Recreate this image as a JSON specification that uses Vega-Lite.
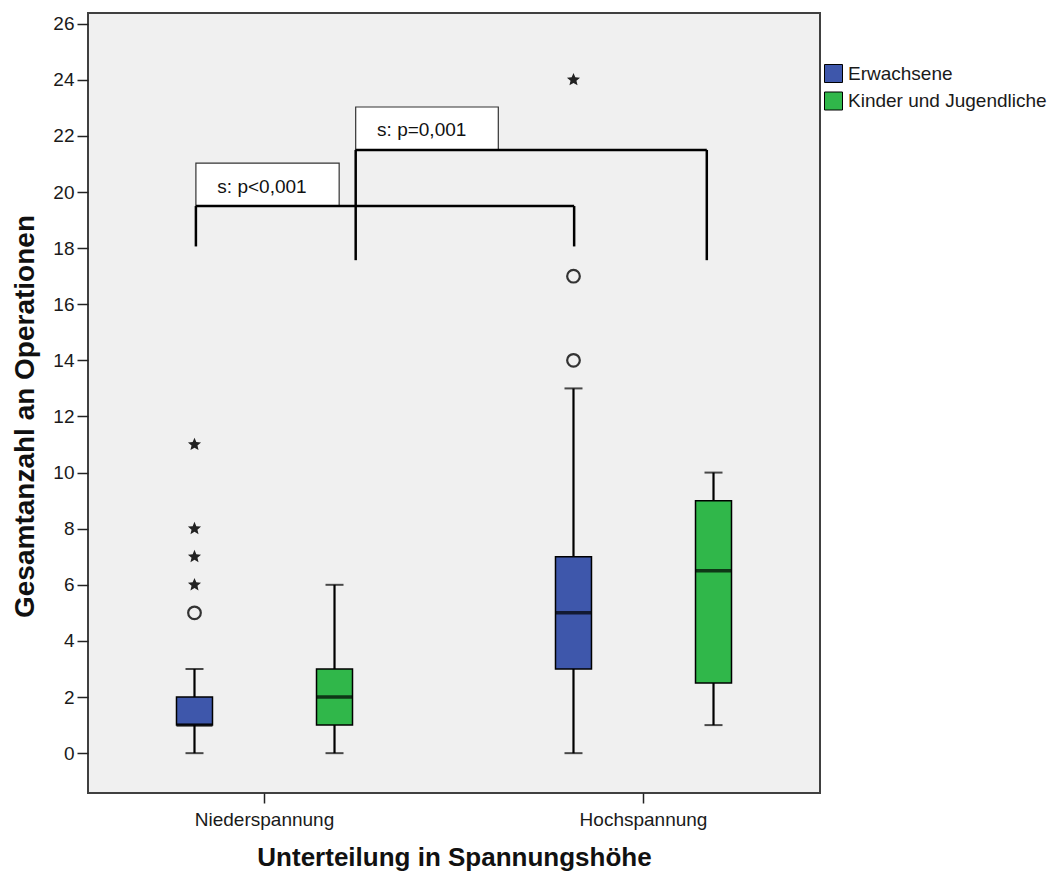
{
  "$schema": "https://vega.github.io/schema/vega-lite/v6.json",
  "autosize": {"type": "none"},
  "padding": {"left": 88, "top": 13, "right": 229, "bottom": 81},
  "width": 732,
  "height": 780,
  "background": "white",
  "config": {
    "font": "Liberation Sans",
    "view": {"fill": "#F0F0F0", "stroke": "#404040", "strokeWidth": 2},
    "axis": {"grid": false, "domain": false, "labelFont": "Liberation Sans", "titleFont": "Liberation Sans", "labelColor": "#1a1a1a", "titleColor": "#111111", "tickColor": "#222222"},
    "legend": {"labelFont": "Liberation Sans"}
  },
  "datasets": {
    "boxes": [
      {"span": "Niederspannung", "group": "Erwachsene", "min": 0, "q1": 1, "median": 1, "q3": 2, "max": 3},
      {"span": "Niederspannung", "group": "Kinder und Jugendliche", "min": 0, "q1": 1, "median": 2, "q3": 3, "max": 6},
      {"span": "Hochspannung", "group": "Erwachsene", "min": 0, "q1": 3, "median": 5, "q3": 7, "max": 13},
      {"span": "Hochspannung", "group": "Kinder und Jugendliche", "min": 1, "q1": 2.5, "median": 6.5, "q3": 9, "max": 10}
    ],
    "outliers": [
      {"span": "Niederspannung", "group": "Erwachsene", "value": 5, "kind": "mild"},
      {"span": "Niederspannung", "group": "Erwachsene", "value": 6, "kind": "extreme"},
      {"span": "Niederspannung", "group": "Erwachsene", "value": 7, "kind": "extreme"},
      {"span": "Niederspannung", "group": "Erwachsene", "value": 8, "kind": "extreme"},
      {"span": "Niederspannung", "group": "Erwachsene", "value": 11, "kind": "extreme"},
      {"span": "Hochspannung", "group": "Erwachsene", "value": 14, "kind": "mild"},
      {"span": "Hochspannung", "group": "Erwachsene", "value": 17, "kind": "mild"},
      {"span": "Hochspannung", "group": "Erwachsene", "value": 24, "kind": "extreme"}
    ],
    "segments": [
      {"x": 0.819, "x2": 0.819, "y": 18.06, "y2": 19.5},
      {"x": 0.819, "x2": 1.817, "y": 19.5, "y2": 19.5},
      {"x": 1.817, "x2": 1.817, "y": 19.5, "y2": 18.06},
      {"x": 1.2406, "x2": 1.2406, "y": 17.57, "y2": 21.5},
      {"x": 1.2406, "x2": 2.167, "y": 21.5, "y2": 21.5},
      {"x": 2.167, "x2": 2.167, "y": 21.5, "y2": 17.57}
    ],
    "labels": [
      {"label": "s: p<0,001", "x1": 0.819, "x2": 1.197, "y1": 19.5, "y2": 21.03, "tx": 0.9934, "ty": 20.17},
      {"label": "s: p=0,001", "x1": 1.2406, "x2": 1.6169, "y1": 21.5, "y2": 23.03, "tx": 1.4148, "ty": 22.2}
    ]
  },
  "layer": [
    {
      "layer": [
        {
          "data": {"name": "boxes"},
          "mark": {"type": "rule", "color": "black", "strokeWidth": 2.2},
          "encoding": {
            "x": {"field": "span", "type": "nominal",
                  "scale": {"domain": ["Niederspannung", "Hochspannung"], "paddingInner": 0.0686, "paddingOuter": 0},
                  "axis": {"title": "Unterteilung in Spannungshöhe", "labelAngle": 0, "labelFontSize": 19, "labelPadding": 7, "tickSize": 10, "tickWidth": 1.5, "titleFontSize": 26, "titleFontWeight": "bold", "titlePadding": 15}},
            "xOffset": {"field": "group", "type": "nominal",
                  "scale": {"domain": ["Erwachsene", "Kinder und Jugendliche"], "paddingInner": 0.7429, "paddingOuter": 0.632}},
            "y": {"field": "min", "type": "quantitative",
                  "scale": {"domain": [-1.42, 26.38], "nice": false, "zero": false},
                  "axis": {"title": "Gesamtanzahl an Operationen", "values": [0, 2, 4, 6, 8, 10, 12, 14, 16, 18, 20, 22, 24, 26], "labelFontSize": 19, "labelPadding": 3, "tickSize": 11, "tickWidth": 1.5, "titleFontSize": 28, "titleFontWeight": "bold", "titlePadding": 13, "titleY": 403}},
            "y2": {"field": "max"}
          }
        },
        {
          "data": {"name": "boxes"},
          "mark": {"type": "tick", "color": "black", "size": 18, "thickness": 2},
          "encoding": {
            "x": {"field": "span", "type": "nominal"},
            "xOffset": {"field": "group", "type": "nominal"},
            "y": {"field": "min", "type": "quantitative"}
          }
        },
        {
          "data": {"name": "boxes"},
          "mark": {"type": "tick", "color": "black", "size": 18, "thickness": 2},
          "encoding": {
            "x": {"field": "span", "type": "nominal"},
            "xOffset": {"field": "group", "type": "nominal"},
            "y": {"field": "max", "type": "quantitative"}
          }
        },
        {
          "data": {"name": "boxes"},
          "mark": {"type": "bar", "stroke": "black", "strokeWidth": 1.5},
          "encoding": {
            "x": {"field": "span", "type": "nominal"},
            "xOffset": {"field": "group", "type": "nominal"},
            "y": {"field": "q1", "type": "quantitative"},
            "y2": {"field": "q3"},
            "color": {"field": "group", "type": "nominal",
                      "scale": {"domain": ["Erwachsene", "Kinder und Jugendliche"], "range": ["#3E57AB", "#30B74A"]},
                      "legend": {"title": null, "orient": "none", "legendX": 736, "legendY": 51, "symbolType": "square", "symbolSize": 324, "symbolStrokeColor": "black", "symbolStrokeWidth": 1, "symbolOpacity": 1, "labelFontSize": 19, "labelColor": "#1a1a1a", "labelOffset": 5, "labelLimit": 0, "rowPadding": 4.5}}
          }
        },
        {
          "data": {"name": "boxes"},
          "mark": {"type": "tick", "color": "black", "size": 36, "thickness": 3.5},
          "encoding": {
            "x": {"field": "span", "type": "nominal"},
            "xOffset": {"field": "group", "type": "nominal"},
            "y": {"field": "median", "type": "quantitative"}
          }
        },
        {
          "data": {"name": "outliers"},
          "transform": [{"filter": "datum.kind === 'mild'"}],
          "mark": {"type": "point", "shape": "circle", "filled": false, "size": 160, "strokeWidth": 2.2, "color": "#333333", "opacity": 1},
          "encoding": {
            "x": {"field": "span", "type": "nominal"},
            "xOffset": {"field": "group", "type": "nominal"},
            "y": {"field": "value", "type": "quantitative"}
          }
        },
        {
          "data": {"name": "outliers"},
          "transform": [{"filter": "datum.kind === 'extreme'"}],
          "mark": {"type": "point", "shape": "M0,-1L0.2645,-0.364L0.951,-0.309L0.428,0.139L0.588,0.809L0,0.45L-0.588,0.809L-0.428,0.139L-0.951,-0.309L-0.2645,-0.364Z", "filled": true, "size": 190, "strokeWidth": 0, "color": "#222222", "opacity": 1},
          "encoding": {
            "x": {"field": "span", "type": "nominal"},
            "xOffset": {"field": "group", "type": "nominal"},
            "y": {"field": "value", "type": "quantitative"}
          }
        }
      ]
    },
    {
      "layer": [
        {
          "data": {"name": "labels"},
          "mark": {"type": "rect", "fill": "white", "stroke": "#333333", "strokeWidth": 1.2},
          "encoding": {
            "x": {"field": "x1", "type": "quantitative", "scale": {"domain": [0.5343, 2.4657], "nice": false, "zero": false}, "axis": null},
            "x2": {"field": "x2"},
            "y": {"field": "y1", "type": "quantitative"},
            "y2": {"field": "y2"}
          }
        },
        {
          "data": {"name": "segments"},
          "mark": {"type": "rule", "color": "black", "strokeWidth": 2.5},
          "encoding": {
            "x": {"field": "x", "type": "quantitative"},
            "x2": {"field": "x2"},
            "y": {"field": "y", "type": "quantitative"},
            "y2": {"field": "y2"}
          }
        },
        {
          "data": {"name": "labels"},
          "mark": {"type": "text", "fontSize": 19, "color": "#111111", "align": "center", "baseline": "middle", "font": "Liberation Sans"},
          "encoding": {
            "x": {"field": "tx", "type": "quantitative"},
            "y": {"field": "ty", "type": "quantitative"},
            "text": {"field": "label"}
          }
        }
      ]
    }
  ],
  "resolve": {"scale": {"x": "independent"}, "axis": {"x": "independent"}}
}
